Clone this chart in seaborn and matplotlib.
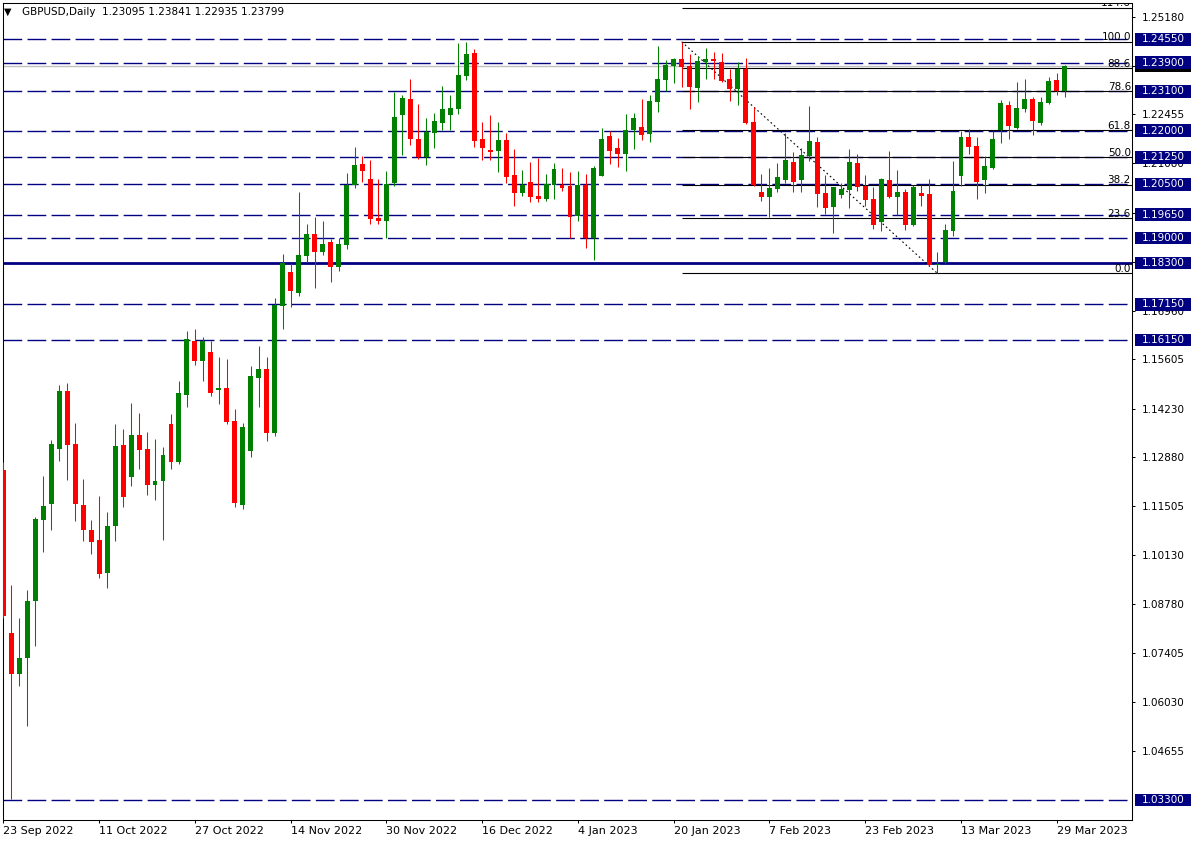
import numpy as np
import pandas as pd
import matplotlib
matplotlib.use('Agg')
import matplotlib.pyplot as plt
import matplotlib.transforms as mtransforms
from matplotlib.patches import Rectangle
import seaborn as sns

# Dzienne świece GBPUSD, 23 Sep 2022 - 30 Mar 2023
otwarcie = [1.1252, 1.0796, 1.0681, 1.0728, 1.0887, 1.1113, 1.1158, 1.1310, 1.1472, 1.1324,
            1.1154, 1.1084, 1.1056, 1.0964, 1.1096, 1.1322, 1.1233, 1.1350, 1.1310, 1.1210,
            1.1221, 1.1380, 1.1275, 1.1460, 1.1613, 1.1557, 1.1581, 1.1475, 1.1481, 1.1389,
            1.1154, 1.1304, 1.1509, 1.1534, 1.1355, 1.1710, 1.1805, 1.1746, 1.1850, 1.1912,
            1.1861, 1.1890, 1.1819, 1.1880, 1.2049, 1.2107, 1.2065, 1.1955, 1.1946, 1.2053,
            1.2244, 1.2288, 1.2176, 1.2126, 1.2194, 1.2221, 1.2244, 1.2260, 1.2352, 1.2417,
            1.2176, 1.2146, 1.2143, 1.2173, 1.2076, 1.2026, 1.2056, 1.2017, 1.2009, 1.2049,
            1.2049, 1.2045, 1.1962, 1.2048, 1.1900, 1.2073, 1.2185, 1.2152, 1.2135, 1.2202,
            1.2210, 1.2191, 1.2280, 1.2341, 1.2380, 1.2400, 1.2380, 1.2320, 1.2391, 1.2400,
            1.2391, 1.2344, 1.2317, 1.2373, 1.2224, 1.2028, 1.2013, 1.2038, 1.2063, 1.2112,
            1.2063, 1.2130, 1.2168, 1.2026, 1.1987, 1.2021, 1.2035, 1.2109, 1.2045, 1.2009,
            1.1945, 1.2062, 1.2015, 1.2028, 1.1937, 1.2026, 1.2023, 1.1825, 1.1832, 1.1920,
            1.2074, 1.2182, 1.2157, 1.2063, 1.2096, 1.2201, 1.2271, 1.2208, 1.2261, 1.2288,
            1.2222, 1.2277, 1.2341, 1.23095]
maksimum = [1.1273, 1.0931, 1.0837, 1.0917, 1.1121, 1.1235, 1.1336, 1.1489, 1.1494, 1.1383,
            1.1227, 1.1112, 1.1179, 1.1134, 1.1380, 1.1366, 1.1439, 1.1411, 1.1358, 1.1338,
            1.1316, 1.1408, 1.1500, 1.1640, 1.1646, 1.1623, 1.1612, 1.1567, 1.1563, 1.1422,
            1.1382, 1.1542, 1.1598, 1.1567, 1.1732, 1.1855, 1.1829, 1.2027, 1.1940, 1.1958,
            1.1948, 1.1898, 1.1901, 1.2082, 1.2155, 1.2129, 1.2118, 1.2065, 1.2086, 1.2308,
            1.2299, 1.2344, 1.2273, 1.2235, 1.2249, 1.2324, 1.2299, 1.2445, 1.2447, 1.2428,
            1.2224, 1.2243, 1.2224, 1.2193, 1.2149, 1.2090, 1.2112, 1.2124, 1.2079, 1.2109,
            1.2096, 1.2084, 1.2087, 1.2079, 1.2101, 1.2208, 1.2200, 1.2179, 1.2246, 1.2249,
            1.2288, 1.2299, 1.2436, 1.2397, 1.2404, 1.2448, 1.2414, 1.2407, 1.2431, 1.2419,
            1.2417, 1.2372, 1.2392, 1.2403, 1.2266, 1.2079, 1.2095, 1.2109, 1.2193, 1.2140,
            1.2151, 1.2268, 1.2182, 1.2076, 1.2043, 1.2054, 1.2149, 1.2135, 1.2076, 1.2042,
            1.2067, 1.2143, 1.2090, 1.2037, 1.2048, 1.2048, 1.2065, 1.1861, 1.1939, 1.2115,
            1.2199, 1.2204, 1.2182, 1.2129, 1.2200, 1.2285, 1.2283, 1.2336, 1.2344, 1.2294,
            1.2294, 1.2350, 1.2361, 1.23841]
minimum = [1.0838, 1.0332, 1.0649, 1.0538, 1.0760, 1.1023, 1.1084, 1.1277, 1.1224, 1.1110,
           1.1054, 1.1018, 1.0950, 1.0922, 1.1053, 1.1149, 1.1207, 1.1255, 1.1182, 1.1168,
           1.1056, 1.1255, 1.1269, 1.1428, 1.1545, 1.1501, 1.1458, 1.1437, 1.1380, 1.1149,
           1.1143, 1.1288, 1.1428, 1.1333, 1.1347, 1.1646, 1.1707, 1.1738, 1.1833, 1.1761,
           1.1853, 1.1777, 1.1808, 1.1869, 1.2040, 1.2056, 1.1939, 1.1940, 1.1900, 1.2045,
           1.2132, 1.2160, 1.2120, 1.2105, 1.2151, 1.2201, 1.2201, 1.2247, 1.2341, 1.2154,
           1.2118, 1.2118, 1.2084, 1.2054, 1.1989, 1.2017, 1.2001, 1.2001, 1.2003, 1.2009,
           1.2031, 1.1900, 1.1948, 1.1872, 1.1839, 1.2073, 1.2107, 1.2099, 1.2088, 1.2149,
           1.2174, 1.2169, 1.2253, 1.2310, 1.2334, 1.2323, 1.2261, 1.2281, 1.2345, 1.2345,
           1.2335, 1.2283, 1.2272, 1.2218, 1.2046, 1.2004, 1.1959, 1.2029, 1.2054, 1.2029,
           1.2029, 1.2116, 1.1987, 1.1968, 1.1915, 1.2012, 1.1985, 1.2031, 1.1990, 1.1925,
           1.1920, 1.2012, 1.1965, 1.1923, 1.1934, 1.1990, 1.1822, 1.1802, 1.1830, 1.1906,
           1.2046, 1.2135, 1.2010, 1.2026, 1.2093, 1.2166, 1.2176, 1.2204, 1.2252, 1.2188,
           1.2216, 1.2274, 1.2299, 1.22935]
zamkniecie = [1.0845, 1.0683, 1.0728, 1.0886, 1.1115, 1.1151, 1.1324, 1.1472, 1.1322, 1.1157,
              1.1084, 1.1050, 1.0962, 1.1095, 1.1319, 1.1177, 1.1350, 1.1307, 1.1210, 1.1221,
              1.1294, 1.1274, 1.1467, 1.1618, 1.1557, 1.1613, 1.1467, 1.1480, 1.1386, 1.1160,
              1.1372, 1.1514, 1.1534, 1.1355, 1.1714, 1.1829, 1.1752, 1.1851, 1.1912, 1.1861,
              1.1884, 1.1819, 1.1883, 1.2048, 1.2104, 1.2087, 1.1952, 1.1946, 1.2052, 1.2238,
              1.2291, 1.2175, 1.2126, 1.2196, 1.2226, 1.2259, 1.2263, 1.2355, 1.2414, 1.2171,
              1.2152, 1.2140, 1.2173, 1.2071, 1.2026, 1.2049, 1.2015, 1.2009, 1.2050, 1.2093,
              1.2040, 1.1959, 1.2048, 1.1900, 1.2096, 1.2177, 1.2143, 1.2135, 1.2202, 1.2235,
              1.2188, 1.2283, 1.2344, 1.2383, 1.2400, 1.2378, 1.2323, 1.2394, 1.2400, 1.2395,
              1.2339, 1.2317, 1.2372, 1.2222, 1.2049, 1.2015, 1.2040, 1.2070, 1.2118, 1.2057,
              1.2132, 1.2171, 1.2024, 1.1985, 1.2042, 1.2037, 1.2112, 1.2043, 1.2007, 1.1937,
              1.2065, 1.2015, 1.2028, 1.1937, 1.2042, 1.2018, 1.1825, 1.1828, 1.1922, 1.2031,
              1.2182, 1.2155, 1.2057, 1.2101, 1.2176, 1.2277, 1.2214, 1.2263, 1.2288, 1.2228,
              1.2280, 1.2338, 1.2310, 1.23799]

# Opisy osi czasu (co 12 sesji)
etykiety_dat = ['23 Sep 2022', '11 Oct 2022', '27 Oct 2022', '14 Nov 2022', '30 Nov 2022',
                '16 Dec 2022', '4 Jan 2023', '20 Jan 2023', '7 Feb 2023', '23 Feb 2023',
                '13 Mar 2023', '29 Mar 2023']
pozycje_dat = [0, 12, 24, 36, 48, 60, 72, 84, 96, 108, 120, 132]

# Skala cen po prawej (te zakryte etykietami poziomów bez opisu)
ceny_osi = [1.25180, 1.23805, 1.22455, 1.21080, 1.19705, 1.18330, 1.16960, 1.15605,
            1.14230, 1.12880, 1.11505, 1.10130, 1.08780, 1.07405, 1.06030, 1.04655]
zakryte = [1.23805, 1.19705, 1.18330]

# Poziomy wsparcia / oporu
poziomy = [1.2455, 1.2390, 1.2310, 1.2200, 1.2125, 1.2050, 1.1965, 1.1900,
           1.1715, 1.1615, 1.0330]
poziom_glowny = 1.1830
cena_bid = 1.23799

# Zniesienia Fibonacciego
fib_nazwy = ['0.0', '23.6', '38.2', '50.0', '61.8', '78.6', '88.6', '100.0', '114.6']
fib_wsp = [0.0, 0.236, 0.382, 0.5, 0.618, 0.786, 0.886, 1.0, 1.146]
fib_dol, fib_gora = 1.1802, 1.2448
fib_start, fib_koniec = 85, 117

W, H = 1197, 843
granatowy = '#000080'

sns.set_theme(style='white')
plt.rcParams['font.family'] = ['DejaVu Sans']

fig = plt.figure(figsize=(W / 100, H / 100), dpi=100)
ax = fig.add_axes([2.5 / W, 23 / H, (1132 - 2.5) / W, (820 - 2.7) / H])

df = pd.DataFrame({'o': otwarcie, 'h': maksimum, 'l': minimum, 'c': zamkniecie})
df['bar'] = np.arange(len(df))
kolory = np.where(df.c >= df.o, '#008000', '#ff0000')

x_max = 141.43

# linie poziomów
ax.axhline(cena_bid, color='#c0c0c0', lw=1.0, zorder=1)
for p in poziomy:
    ax.axhline(p, color=granatowy, lw=1.0, dashes=(13.5, 3.8), zorder=1.5)
ax.axhline(poziom_glowny, color=granatowy, lw=2.0, zorder=1.5)

# Fibonacci
fib_ceny = [fib_dol + w * (fib_gora - fib_dol) for w in fib_wsp]
ax.hlines(fib_ceny, fib_start, x_max, colors='black', lw=0.8, zorder=2)
ax.plot([fib_start, fib_koniec], [fib_gora, fib_dol], color='black', lw=0.8,
        ls=(0, (1.5, 2.5)), zorder=2)
tr_fib = mtransforms.blended_transform_factory(ax.transAxes, ax.transData)
for nazwa, cena in zip(fib_nazwy, fib_ceny):
    ax.text(0.999, cena + 1.5 / 3580, nazwa, transform=tr_fib, ha='right', va='baseline',
            fontsize=7.5, color='black', clip_on=True, zorder=2.5)

# świece
ax.vlines(df.bar, df.l, df.h, colors=kolory, lw=0.75, zorder=3)
korpus = (df.c - df.o).abs().clip(lower=0.0003)
ax.bar(df.bar, korpus, bottom=np.minimum(df.o, df.c), width=0.62, color=kolory,
       linewidth=0, zorder=4)

# oś Y po prawej
ax.yaxis.tick_right()
ax.set_yticks(ceny_osi)
ax.set_yticklabels(['' if c in zakryte else f'{c:.5f}' for c in ceny_osi])
ax.tick_params(axis='y', which='both', right=True, left=False, direction='out',
               length=2.5, width=0.75, pad=4.5, labelsize=7.5, colors='black')

# oś X
ax.set_xticks(pozycje_dat)
ax.set_xticklabels(etykiety_dat, ha='left')
ax.tick_params(axis='x', bottom=True, direction='out', length=2.5, width=0.75, pad=1.5,
               labelsize=8, colors='black')

for s in ax.spines.values():
    s.set_color('black')
    s.set_linewidth(0.75)

# etykiety poziomów na osi cen (czarna etykieta bid prawie cała schowana)
tr_box = mtransforms.blended_transform_factory(fig.transFigure, ax.transData)
wys = 12.7 / 3580
ax.add_patch(Rectangle((1135 / W, cena_bid - wys / 2), 56 / W, wys, transform=tr_box,
                       facecolor='black', edgecolor='none', clip_on=False, zorder=5))
for p in poziomy + [poziom_glowny]:
    ax.add_patch(Rectangle((1135 / W, p - wys / 2), 56 / W, wys, transform=tr_box,
                           facecolor=granatowy, edgecolor='none', clip_on=False, zorder=6))
    ax.text(1141.7 / W, p, f'{p:.5f}', transform=tr_box, ha='left', va='center',
            fontsize=7.5, color='white', clip_on=False, zorder=7)

ax.set_xlim(-0.113, x_max)
ax.set_ylim(1.02741, 1.25571)

fig.text(4 / W, 1 - 12 / H, '▼', fontsize=7, va='center', color='black')
fig.text(22 / W, 1 - 12 / H, 'GBPUSD,Daily  1.23095 1.23841 1.22935 1.23799',
         fontsize=7.5, va='center', color='black')

fig.savefig('out.png', dpi=100)
